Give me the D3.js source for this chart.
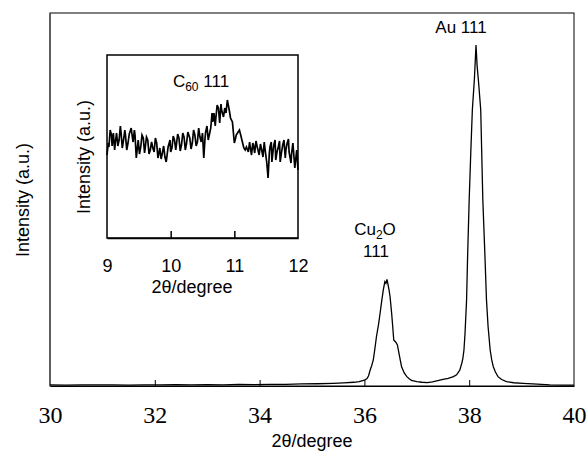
<!DOCTYPE html>
<html>
<head>
<meta charset="utf-8">
<script src="https://cdn.jsdelivr.net/npm/d3@7"></script>
<style>
    body { margin: 0; background: #fff; }
    text { font-family: "Liberation Sans", Arial, sans-serif; fill: #000; }
    text.serif { font-family: "Liberation Serif", "DejaVu Serif", "Tinos", "Nimbus Roman", "Nimbus Roman No9 L", "FreeSerif", "Noto Serif", "Times New Roman", Times, serif; }
</style>
</head>
<body>
<svg id="chart" width="588" height="453"></svg>
<script>
// main pattern, 2theta (degree) and intensity (a.u.)
var mainAngles = [30.00, 30.30, 30.60, 30.90, 31.20, 31.50, 31.80, 32.10, 32.40, 32.70,
    33.00, 33.30, 33.60, 33.90, 34.20, 34.50, 34.80, 35.10, 35.40, 35.60,
    35.80, 35.90, 36.00, 36.05, 36.08, 36.11, 36.14, 36.17, 36.20, 36.23,
    36.27, 36.30, 36.33, 36.36, 36.39, 36.41, 36.43, 36.44, 36.47, 36.49,
    36.52, 36.54, 36.56, 36.60, 36.63, 36.66, 36.68, 36.71, 36.76, 36.81,
    36.86, 36.90, 37.00, 37.10, 37.20, 37.30, 37.40, 37.50, 37.60, 37.70,
    37.76, 37.82, 37.86, 37.88, 37.90, 37.92, 37.95, 37.97, 38.00, 38.03,
    38.06, 38.10, 38.13, 38.15, 38.18, 38.22, 38.26, 38.30, 38.33, 38.36,
    38.40, 38.43, 38.46, 38.50, 38.55, 38.62, 38.71, 38.85, 39.03, 39.30,
    39.54, 39.80, 40.00];
var mainIntensity = [12, 10, 13, 11, 12, 10, 13, 12, 14, 12,
    15, 13, 16, 15, 18, 17, 22, 24, 28, 33,
    40, 48, 62, 80, 110, 172, 220, 279, 400, 528,
    660, 783, 910, 1029, 1118, 1100, 1144, 1118, 1030, 957,
    779, 640, 493, 470, 440, 351, 290, 207, 140, 100,
    75, 60, 46, 40, 36, 45, 58, 70, 82, 100,
    120, 170, 247, 300, 386, 560, 922, 1400, 2000, 2500,
    2960, 3300, 3656, 3441, 3250, 2960, 1994, 1400, 922, 640,
    386, 280, 207, 150, 100, 70, 46, 35, 28, 20,
    11, 10, 9];

// inset pattern around the C60 111 reflection
var insetAngles = [9.00, 9.02, 9.03, 9.05, 9.07, 9.08, 9.10, 9.12, 9.13, 9.15,
    9.17, 9.19, 9.21, 9.22, 9.24, 9.26, 9.28, 9.29, 9.31, 9.33,
    9.35, 9.38, 9.40, 9.41, 9.43, 9.44, 9.46, 9.47, 9.49, 9.51,
    9.53, 9.55, 9.57, 9.59, 9.60, 9.62, 9.64, 9.66, 9.68, 9.70,
    9.72, 9.74, 9.76, 9.78, 9.80, 9.81, 9.83, 9.85, 9.87, 9.89,
    9.91, 9.93, 9.96, 9.99, 10.00, 10.02, 10.04, 10.06, 10.08, 10.09,
    10.11, 10.13, 10.15, 10.17, 10.19, 10.21, 10.23, 10.25, 10.27, 10.30,
    10.32, 10.34, 10.36, 10.38, 10.40, 10.42, 10.44, 10.46, 10.48, 10.50,
    10.52, 10.54, 10.55, 10.57, 10.59, 10.61, 10.63, 10.65, 10.66, 10.68,
    10.70, 10.71, 10.73, 10.75, 10.77, 10.79, 10.80, 10.83, 10.85, 10.87,
    10.89, 10.92, 10.94, 10.97, 11.00, 11.02, 11.03, 11.06, 11.08, 11.10,
    11.13, 11.15, 11.17, 11.19, 11.22, 11.24, 11.25, 11.27, 11.29, 11.30,
    11.32, 11.34, 11.36, 11.39, 11.41, 11.43, 11.45, 11.47, 11.48, 11.51,
    11.53, 11.55, 11.56, 11.58, 11.59, 11.61, 11.62, 11.64, 11.65, 11.67,
    11.69, 11.71, 11.72, 11.74, 11.76, 11.78, 11.80, 11.81, 11.83, 11.85,
    11.86, 11.89, 11.90, 11.92, 11.95, 11.98, 12.00];
var insetIntensity = [83, 95, 91, 108, 103, 92, 105, 88, 95, 105,
    92, 98, 112, 106, 90, 98, 108, 103, 88, 95,
    104, 110, 100, 96, 108, 103, 80, 86, 98, 84,
    91, 103, 100, 85, 90, 101, 98, 84, 88, 96,
    90, 86, 100, 95, 80, 83, 90, 79, 85, 92,
    81, 76, 91, 98, 86, 90, 102, 98, 88, 93,
    104, 100, 87, 93, 105, 101, 88, 95, 106, 100,
    89, 95, 108, 103, 92, 96, 110, 101, 96, 105,
    80, 100, 106, 112, 98, 104, 110, 125, 116, 125,
    112, 120, 133, 130, 115, 134, 128, 121, 130, 125,
    138, 128, 120, 116, 95, 100, 103, 106, 108, 103,
    95, 90, 88, 91, 86, 96, 91, 83, 95, 93,
    85, 97, 91, 83, 94, 88, 81, 96, 90, 75,
    60, 85, 91, 96, 76, 88, 93, 98, 78, 86,
    91, 97, 76, 85, 93, 98, 80, 88, 95, 99,
    86, 75, 85, 95, 70, 88, 68];

// tick values
var mainTicks = [30, 32, 34, 36, 38, 40];
var insetTicks = [9, 10, 11, 12];

var svg = d3.select("#chart");

// main plot area
var main = { left: 50, right: 574, top: 13, bottom: 386 };
var x = d3.scaleLinear().domain([30, 40]).range([main.left, main.right]);
var y = d3.scaleLinear().domain([0, 4000]).range([main.bottom, main.top]);

// frame
svg.append("rect")
    .attr("x", main.left)
    .attr("y", main.top)
    .attr("width", main.right - main.left)
    .attr("height", main.bottom - main.top)
    .style("fill", "none")
    .style("stroke", "#000")
    .style("stroke-width", 1);
svg.append("line")
    .attr("x1", main.left).attr("x2", main.left)
    .attr("y1", main.top).attr("y2", main.bottom)
    .style("stroke", "#555")
    .style("stroke-width", 1.5);

// x axis, ticks pointing inward
var xAxis = svg.append("g")
    .attr("transform", "translate(0," + main.bottom + ")")
    .call(d3.axisBottom(x).tickValues(mainTicks).tickSizeInner(-6).tickSizeOuter(0).tickPadding(20));
xAxis.attr("font-family", null);
xAxis.selectAll("text")
    .attr("class", "serif")
    .style("font-size", "24px");
xAxis.selectAll(".tick line")
    .filter(function(d) { return d == 30 || d == 40; })
    .remove();

// main curve
var mainData = mainAngles.map(function(a, i) { return [a, mainIntensity[i]]; });
var line = d3.line()
    .x(function(d) { return x(d[0]); })
    .y(function(d) { return y(d[1]); });
svg.append("path")
    .datum(mainData)
    .attr("d", line)
    .style("fill", "none")
    .style("stroke", "#000")
    .style("stroke-width", 1.3);

// axis titles
svg.append("text")
    .attr("x", 312)
    .attr("y", 447)
    .attr("text-anchor", "middle")
    .style("font-size", "18px")
    .text("2θ/degree");
svg.append("text")
    .attr("transform", "translate(29,200) rotate(-90)")
    .attr("text-anchor", "middle")
    .style("font-size", "18px")
    .text("Intensity (a.u.)");

// peak labels
svg.append("text")
    .attr("x", 461)
    .attr("y", 33)
    .attr("text-anchor", "middle")
    .style("font-size", "17px")
    .text("Au 111");
var cu = svg.append("text")
    .attr("x", 375)
    .attr("y", 235)
    .attr("text-anchor", "middle")
    .style("font-size", "17px");
cu.append("tspan").text("Cu");
cu.append("tspan").attr("dy", 4).style("font-size", "12px").text("2");
cu.append("tspan").attr("dy", -4).text("O");
svg.append("text")
    .attr("x", 376)
    .attr("y", 257)
    .attr("text-anchor", "middle")
    .style("font-size", "17px")
    .text("111");

// inset
var inset = { left: 107, right: 298, top: 55, bottom: 238 };
var xi = d3.scaleLinear().domain([9, 12]).range([inset.left, inset.right]);
var yi = d3.scaleLinear().domain([0, 183]).range([inset.bottom, inset.top]);

svg.append("rect")
    .attr("x", inset.left)
    .attr("y", inset.top)
    .attr("width", inset.right - inset.left)
    .attr("height", inset.bottom - inset.top)
    .style("fill", "#fff")
    .style("stroke", "#000")
    .style("stroke-width", 1.5);

var xiAxis = svg.append("g")
    .attr("transform", "translate(0," + inset.bottom + ")")
    .call(d3.axisBottom(xi).tickValues(insetTicks).tickFormat(d3.format("d"))
        .tickSizeInner(-7).tickSizeOuter(0).tickPadding(21));
xiAxis.selectAll("text").style("font-size", "18px");
xiAxis.select(".domain").style("stroke-width", 1.5);
xiAxis.selectAll(".tick line")
    .style("stroke-width", 1.5)
    .filter(function(d) { return d == 9 || d == 12; })
    .remove();

var insetData = insetAngles.map(function(a, i) { return [a, insetIntensity[i]]; });
var insetLine = d3.line()
    .x(function(d) { return xi(d[0]); })
    .y(function(d) { return yi(d[1]); });
svg.append("path")
    .datum(insetData)
    .attr("d", insetLine)
    .style("fill", "none")
    .style("stroke", "#000")
    .style("stroke-width", 1.7);

svg.append("text")
    .attr("x", 192)
    .attr("y", 293)
    .attr("text-anchor", "middle")
    .style("font-size", "18px")
    .text("2θ/degree");
svg.append("text")
    .attr("transform", "translate(90,157) rotate(-90)")
    .attr("text-anchor", "middle")
    .style("font-size", "18px")
    .text("Intensity (a.u.)");

var c60 = svg.append("text")
    .attr("x", 201)
    .attr("y", 87)
    .attr("text-anchor", "middle")
    .style("font-size", "17px");
c60.append("tspan").text("C");
c60.append("tspan").attr("dy", 4).style("font-size", "12px").text("60");
c60.append("tspan").attr("dy", -4).text(" 111");
</script>
</body>
</html>
